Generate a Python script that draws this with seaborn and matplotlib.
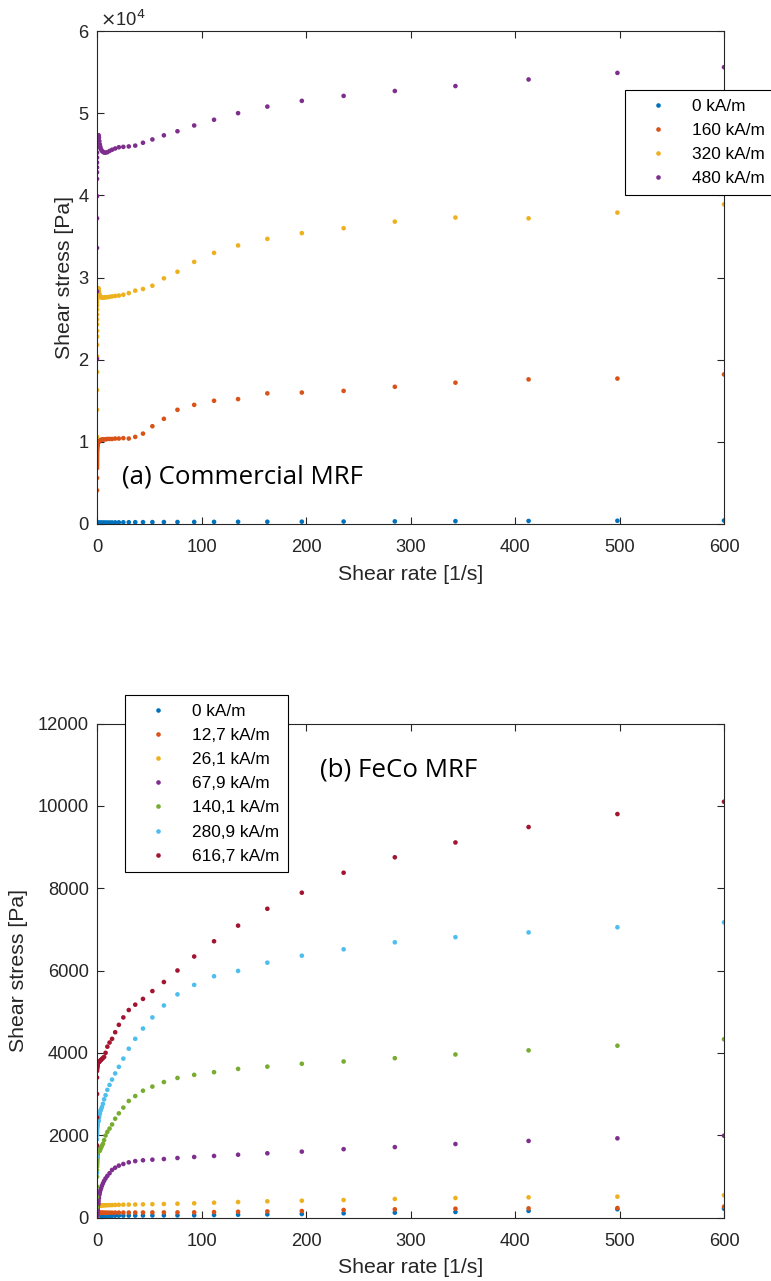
import matplotlib
matplotlib.use('Agg')
import matplotlib.pyplot as plt
import seaborn as sns
import pandas as pd
from matplotlib.ticker import FuncFormatter

# shear rate points (same sweep for every curve), ascending
shear = [0.010, 0.012, 0.014, 0.017, 0.021, 0.025, 0.030, 0.037, 0.044, 0.053,
         0.064, 0.077, 0.093, 0.11, 0.14, 0.16, 0.20, 0.24, 0.29, 0.34,
         0.41, 0.50, 0.60, 0.72, 0.87, 1.05, 1.27, 1.5, 1.85, 2.2,
         2.7, 3.2, 3.9, 4.7, 5.7, 6.8, 8.2, 9.9, 12.0, 14.4,
         17.4, 20.9, 25.2, 30.4, 36.6, 44, 53, 64, 77, 93,
         112, 135, 163, 196, 236, 285, 343, 413, 498, 600]

# (a) commercial MRF, shear stress [Pa]
labels_a = ['0 kA/m', '160 kA/m', '320 kA/m', '480 kA/m']
a_0 = [15, 20, 25, 30, 35, 38, 42, 46, 50, 54,
       58, 62, 66, 70, 74, 78, 82, 86, 90, 94,
       98, 102, 106, 110, 114, 118, 122, 126, 130, 135,
       140, 145, 150, 155, 160, 166, 172, 178, 184, 190,
       196, 202, 208, 214, 220, 226, 232, 238, 244, 252,
       260, 268, 276, 285, 300, 320, 345, 370, 395, 420]
a_160 = [4100, 5600, 6800, 7100, 7300, 7500, 7700, 7900, 8100, 8300,
         8500, 8700, 8900, 9000, 9150, 9250, 9350, 9450, 9550, 9600,
         9650, 9700, 9750, 9800, 9850, 9900, 9950, 10000, 10050, 10100,
         10150, 10200, 10250, 10250, 10300, 10300, 10300, 10350, 10350, 10350,
         10400, 10400, 10450, 10400, 10600, 11000, 11900, 12800, 13900, 14500,
         15000, 15200, 15900, 16000, 16200, 16700, 17200, 17600, 17700, 18200]
a_320 = [10600, 13900, 16300, 18500, 20400, 21800, 22800, 23500, 24300, 24900,
         25500, 26100, 26600, 27000, 27300, 27500, 27700, 27800, 27900, 28000,
         28000, 28100, 28200, 28300, 28400, 28600, 28700, 28600, 28300, 28000,
         27800, 27650, 27600, 27550, 27550, 27550, 27600, 27600, 27650, 27700,
         27750, 27800, 27900, 28100, 28400, 28600, 29000, 29900, 30700, 31900,
         33000, 33900, 34700, 35400, 36000, 36800, 37300, 37200, 37900, 38900]
a_480 = [20100, 28300, 33600, 37200, 39900, 42000, 42800, 43400, 44000, 44600,
         45200, 45800, 46200, 46500, 46800, 47000, 47100, 47200, 47200, 47100,
         47000, 46900, 46900, 47000, 47100, 47200, 47300, 47300, 47000, 46600,
         46200, 45900, 45600, 45400, 45300, 45200, 45200, 45250, 45400, 45550,
         45700, 45850, 45900, 45950, 46050, 46400, 46800, 47300, 47800, 48500,
         49200, 50000, 50800, 51500, 52100, 52700, 53300, 54100, 54900, 55600]

# (b) FeCo MRF, shear stress [Pa]
labels_b = ['0 kA/m', '12,7 kA/m', '26,1 kA/m', '67,9 kA/m',
            '140,1 kA/m', '280,9 kA/m', '616,7 kA/m']
b_0 = [3, 5, 7, 9, 11, 13, 15, 16, 17, 18,
       19, 20, 21, 22, 23, 24, 25, 26, 27, 28,
       29, 30, 31, 32, 33, 34, 35, 35, 36, 36,
       37, 38, 38, 39, 40, 40, 41, 42, 42, 43,
       44, 45, 46, 47, 48, 49, 50, 51, 52, 53,
       60, 68, 76, 85, 102, 117, 134, 160, 200, 214]
b_12 = [10, 30, 50, 65, 75, 82, 88, 92, 95, 98,
        100, 101, 102, 103, 104, 105, 106, 107, 108, 108,
        109, 109, 110, 110, 111, 111, 112, 112, 113, 113,
        114, 114, 115, 115, 116, 116, 117, 117, 118, 118,
        119, 119, 120, 120, 121, 122, 123, 124, 125, 126,
        132, 140, 148, 158, 182, 199, 214, 222, 230, 263]
b_26 = [20, 60, 110, 150, 180, 200, 215, 230, 240, 248,
        255, 260, 264, 268, 271, 274, 276, 278, 280, 281,
        282, 283, 284, 285, 286, 287, 288, 289, 290, 291,
        292, 293, 294, 295, 296, 297, 298, 299, 300, 302,
        305, 308, 311, 313, 316, 319, 323, 328, 335, 345,
        360, 376, 393, 408, 425, 450, 474, 490, 506, 540]
b_68 = [40, 50, 60, 70, 80, 90, 100, 110, 120, 130,
        140, 150, 160, 170, 180, 190, 200, 210, 220, 235,
        250, 265, 280, 295, 310, 325, 345, 400, 470, 545,
        600, 660, 710, 770, 830, 890, 950, 1010, 1075, 1155,
        1210, 1260, 1300, 1340, 1370, 1390, 1405, 1420, 1445, 1470,
        1495, 1525, 1560, 1600, 1660, 1710, 1785, 1860, 1923, 1987]
b_140 = [250, 500, 750, 990, 1150, 1230, 1270, 1300, 1330, 1350,
         1370, 1390, 1410, 1425, 1440, 1455, 1470, 1485, 1500, 1515,
         1530, 1545, 1560, 1575, 1590, 1605, 1620, 1635, 1650, 1665,
         1620, 1660, 1700, 1740, 1790, 1880, 1990, 2080, 2160, 2260,
         2400, 2530, 2670, 2830, 2950, 3080, 3180, 3290, 3390, 3465,
         3530, 3610, 3665, 3735, 3790, 3870, 3960, 4060, 4173, 4330]
b_281 = [1080, 1480, 1750, 1900, 2000, 2050, 2080, 2110, 2140, 2160,
         2180, 2200, 2210, 2220, 2230, 2240, 2250, 2260, 2270, 2280,
         2290, 2300, 2310, 2320, 2330, 2335, 2340, 2350, 2420, 2480,
         2530, 2590, 2630, 2680, 2760, 2870, 2970, 3100, 3220, 3350,
         3500, 3660, 3860, 4100, 4340, 4590, 4860, 5150, 5420, 5650,
         5860, 5990, 6190, 6360, 6515, 6685, 6810, 6925, 7050, 7170]
b_617 = [1750, 2430, 3000, 3400, 3560, 3600, 3620, 3635, 3645, 3655,
         3665, 3672, 3680, 3686, 3692, 3698, 3704, 3710, 3716, 3722,
         3728, 3734, 3740, 3746, 3752, 3758, 3765, 3772, 3780, 3790,
         3800, 3815, 3830, 3850, 3875, 3900, 4000, 4150, 4250, 4340,
         4500, 4680, 4860, 5040, 5170, 5310, 5500, 5720, 6000, 6340,
         6710, 7090, 7500, 7890, 8375, 8750, 9110, 9485, 9800, 10100]

# matlab default line colours
colors = ['#0072BD', '#D95319', '#EDB120', '#7E2F8E', '#77AC30', '#4DBEEE', '#A2142F']
ink = '#262626'


def to_long(series, labels):
    frames = []
    for vals, lab in zip(series, labels):
        frames.append(pd.DataFrame({'shear': shear, 'stress': vals, 'field': lab}))
    return pd.concat(frames, ignore_index=True)


def style(ax):
    for sp in ax.spines.values():
        sp.set_color(ink)
        sp.set_linewidth(0.8)
    ax.tick_params(direction='in', top=True, right=True, length=5, width=0.8,
                   color=ink, labelcolor=ink, labelsize=13.2)
    ax.tick_params(axis='x', pad=11)
    ax.tick_params(axis='y', pad=6)
    ax.set_xlim(0, 600)
    ax.set_xticks([0, 100, 200, 300, 400, 500, 600])
    ax.set_xlabel('Shear rate [1/s]', fontsize=15.3, color=ink, labelpad=6)


def add_legend(ax, anchor):
    handles, labs = ax.get_legend_handles_labels()
    leg = ax.legend(handles, labs, loc='upper left', bbox_to_anchor=anchor,
                    bbox_transform=fig.transFigure, fontsize=12.4, frameon=True,
                    fancybox=False, framealpha=1, edgecolor='black', borderpad=0.5,
                    handlelength=2.8, handletextpad=0.6, labelspacing=0.53,
                    borderaxespad=0, markerscale=1.0)
    leg.get_frame().set_linewidth(0.8)
    for t in leg.get_texts():
        t.set_color('black')


sns.set_style('ticks')
plt.rcParams['font.family'] = ['Liberation Sans', 'DejaVu Sans']

fig = plt.figure(figsize=(7.71, 12.81), dpi=100)
ax1 = fig.add_axes([97 / 771, 1 - 524 / 1281, 627 / 771, 493 / 1281])
ax2 = fig.add_axes([97 / 771, 1 - 1217.5 / 1281, 627 / 771, 494 / 1281])

# (a)
df_a = to_long([a_0, a_160, a_320, a_480], labels_a)
sns.scatterplot(data=df_a, x='shear', y='stress', hue='field', hue_order=labels_a,
                palette=colors[:4], s=11, linewidth=0, ax=ax1)
style(ax1)
ax1.set_ylim(0, 60000)
ax1.set_yticks([0, 10000, 20000, 30000, 40000, 50000, 60000])
ax1.yaxis.set_major_formatter(FuncFormatter(lambda v, p: '%d' % round(v / 1e4)))
ax1.text(0.004, 1.003, r'$\times$10$^4$', transform=ax1.transAxes, ha='left', va='bottom',
         fontsize=13.2, color=ink)
ax1.set_ylabel('Shear stress [Pa]', fontsize=15.3, color=ink, labelpad=3.5)
ax1.text(0.04, 0.095, '(a) Commercial MRF', transform=ax1.transAxes, ha='left', va='center',
         fontsize=18.6, family=['Open Sans', 'DejaVu Sans'], color='black')
add_legend(ax1, (625 / 771, 1 - 90 / 1281))

# (b)
df_b = to_long([b_0, b_12, b_26, b_68, b_140, b_281, b_617], labels_b)
sns.scatterplot(data=df_b, x='shear', y='stress', hue='field', hue_order=labels_b,
                palette=colors, s=11, linewidth=0, ax=ax2)
style(ax2)
ax2.set_ylim(0, 12000)
ax2.set_yticks([0, 2000, 4000, 6000, 8000, 10000, 12000])
ax2.set_ylabel('Shear stress [Pa]', fontsize=15.3, color=ink, labelpad=7)
ax2.text(0.356, 0.906, '(b) FeCo MRF', transform=ax2.transAxes, ha='left', va='center',
         fontsize=18.6, family=['Open Sans', 'DejaVu Sans'], color='black')
add_legend(ax2, (125 / 771, 1 - 695 / 1281))

fig.savefig('out.png', dpi=100)
